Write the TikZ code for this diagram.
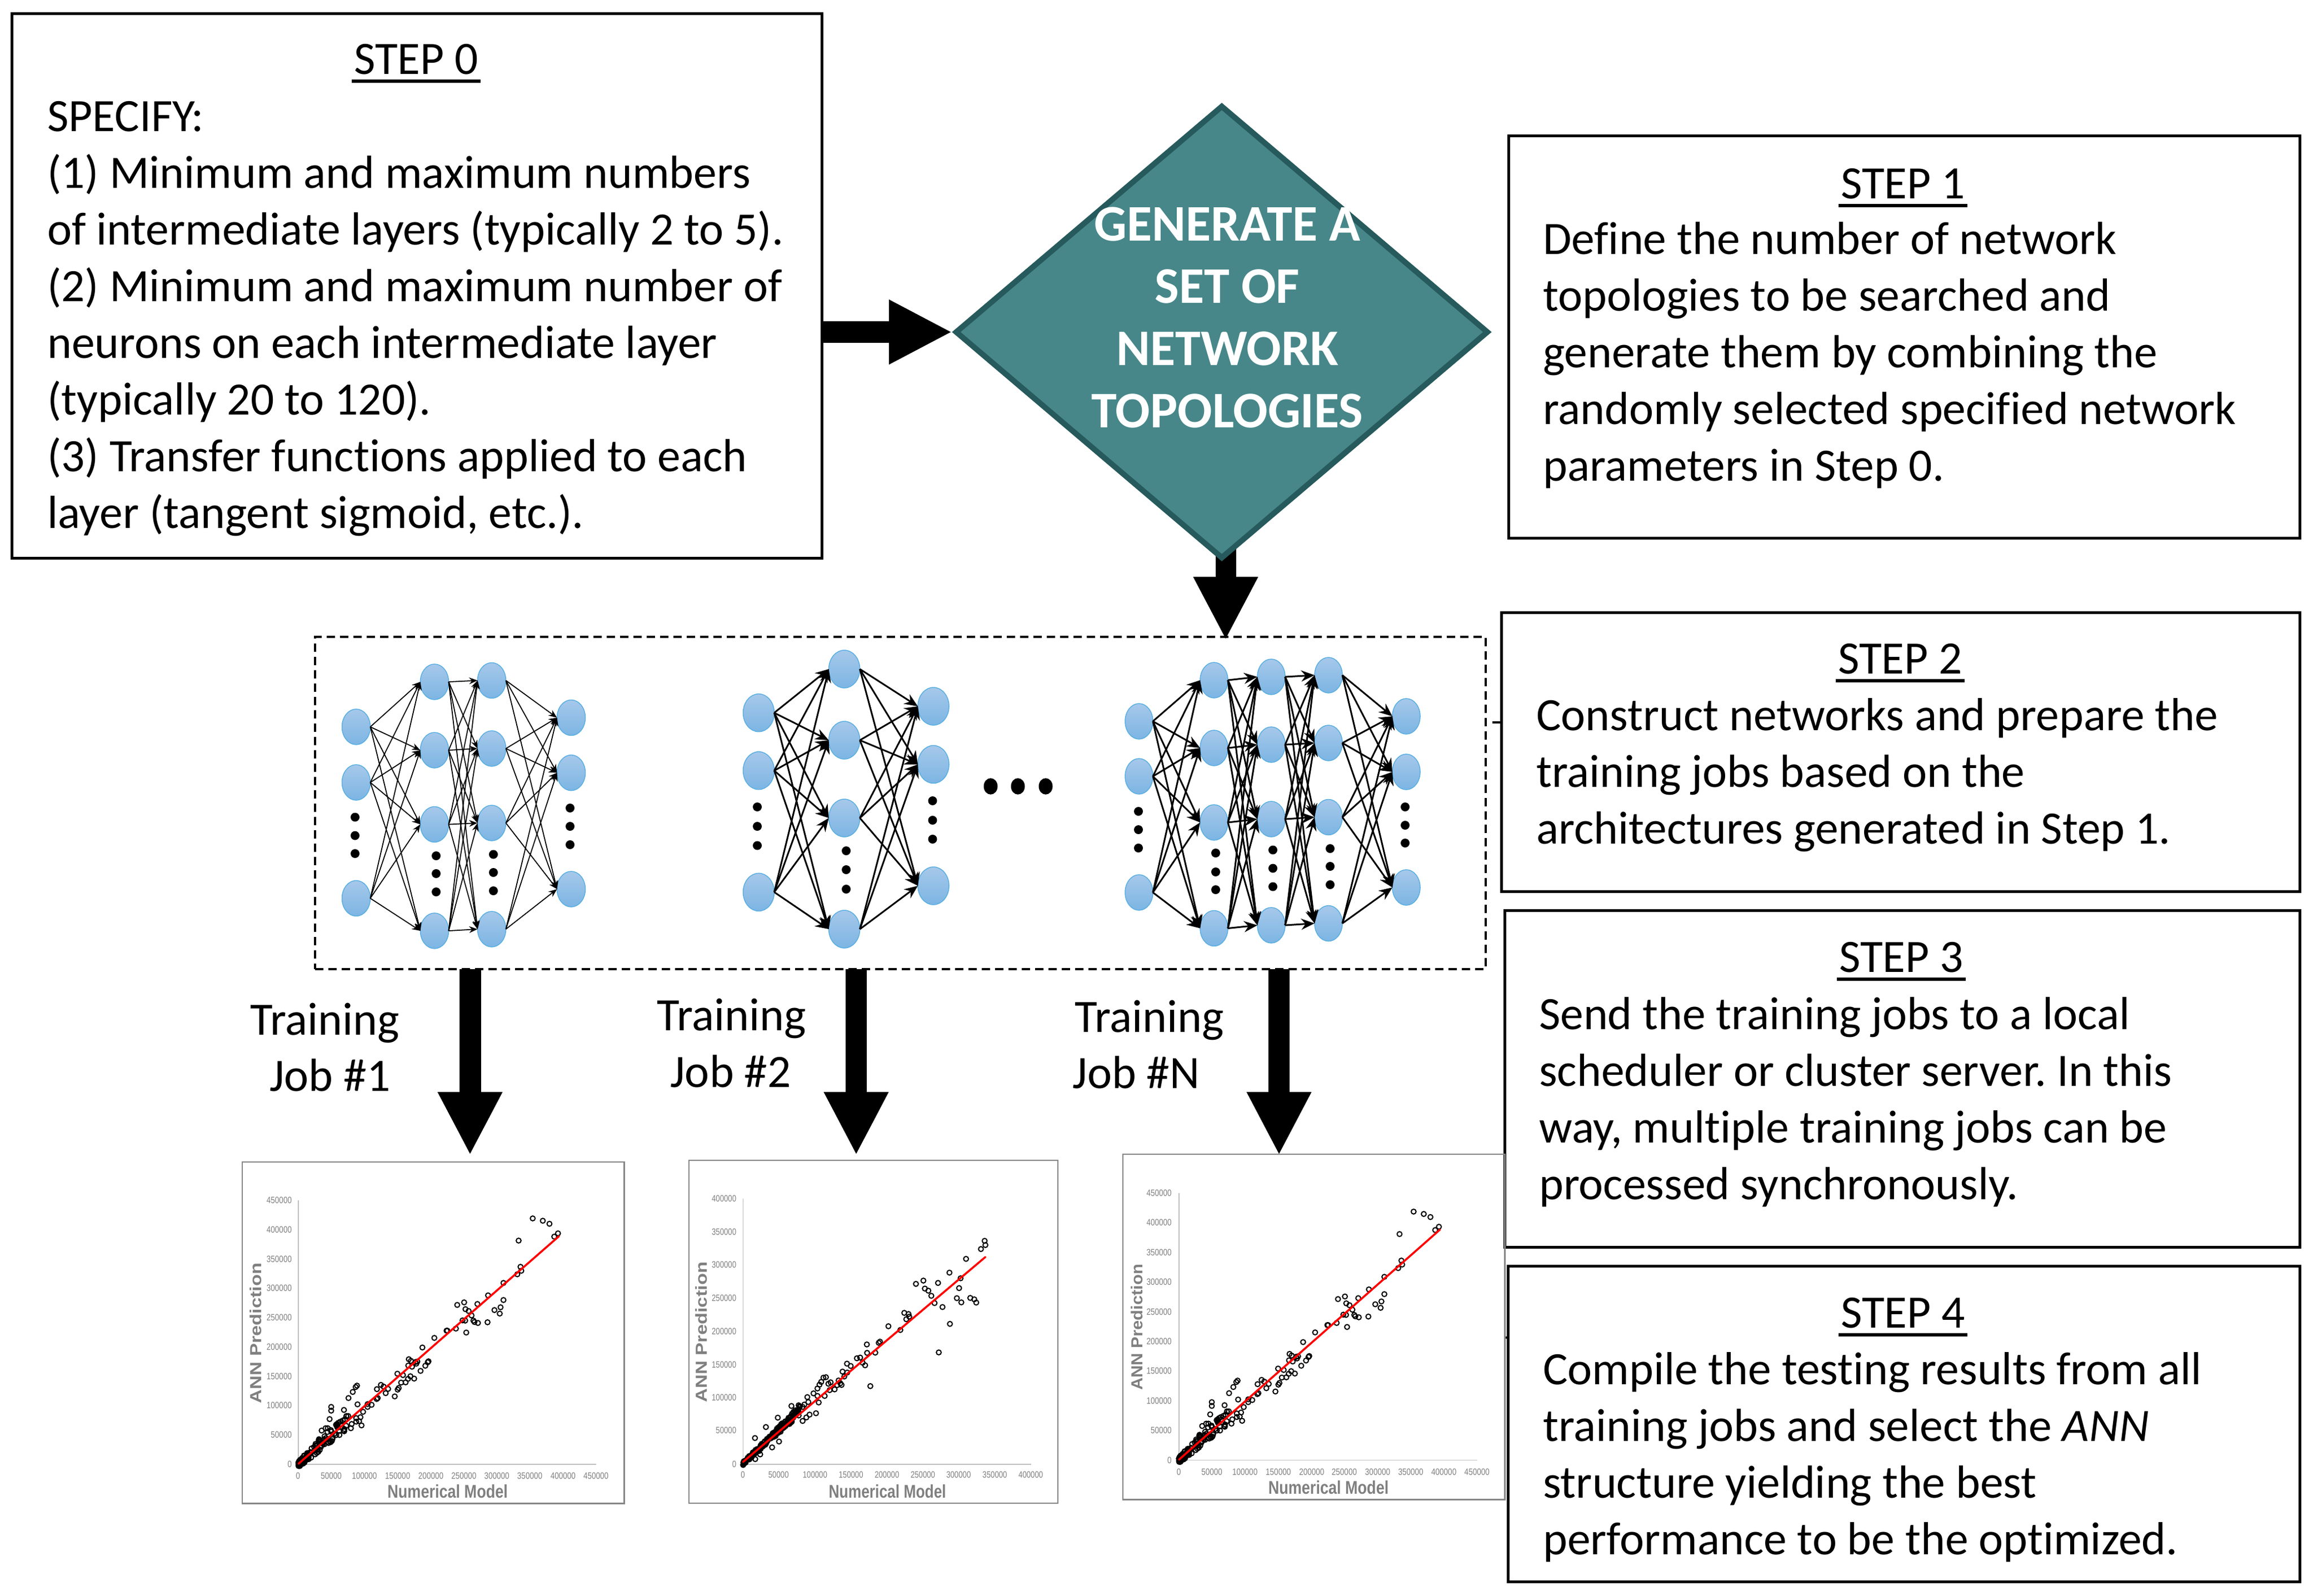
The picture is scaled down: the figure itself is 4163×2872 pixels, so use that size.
\documentclass[tikz,border=0pt]{standalone}
\usepackage{graphicx}
\usepackage{fontspec}
\setmainfont[Ligatures={NoCommon}]{Carlito}
\newfontfamily\arialf{Liberation Sans}
\usetikzlibrary{shapes.geometric,arrows.meta}
\pgfdeclarelayer{background}
\pgfsetlayers{background,main}
\definecolor{tealfill}{HTML}{478789}
\definecolor{tealline}{HTML}{265A5C}
\definecolor{ngtop}{HTML}{A6C8EA}
\definecolor{ngbot}{HTML}{7CB5E3}
\definecolor{ngline}{HTML}{5BAFE2}
\definecolor{plotgray}{HTML}{7F7F7F}
\definecolor{axisgray}{HTML}{BFBFBF}
\definecolor{framegray}{HTML}{868686}
\newcommand{\ulbar}[1]{\setbox0\hbox{#1}\leavevmode\rlap{\kern-4pt\rule[-16pt]{\dimexpr\wd0+8pt\relax}{6pt}}\box0}
\tikzset{
  stepbox/.style={draw=black,line width=5pt,fill=white,rectangle,inner sep=0pt,outer sep=0pt},
  steptitle/.style={anchor=base,inner sep=0pt,font=\fontsize{83.5}{102}\selectfont},
  stepbody/.style={anchor=north west,inner sep=0pt,align=left,font=\fontsize{83.5}{102}\selectfont\frenchspacing},
  joblabel/.style={anchor=base,inner sep=0pt,font=\fontsize{83.5}{102}\selectfont},
  dmtext/.style={anchor=base,inner sep=0pt,text=white,font=\fontsize{92.5}{102}\selectfont\bfseries},
  bigarrow/.style={line width=#1,-{Triangle[length=114pt,width=108pt,sep=0pt]}},
  neuron/.style={ellipse,draw=ngline,line width=1.5pt,top color=ngtop,bottom color=ngbot,inner sep=0pt,outer sep=0pt},
  thinedge/.style={line width=1.8pt,-{Stealth[length=15pt,width=12pt,sep=0pt]}},
  thickedge/.style={line width=3pt,-{Stealth[length=24pt,width=20pt,sep=0pt]}},
  ptmark/.style={draw=black,line width=2pt},
  ticklab/.style={inner sep=0pt,text=plotgray,font=\fontsize{16.5}{18}\selectfont\arialf},
  plottitle/.style={inner sep=0pt,text=plotgray,font=\fontsize{33}{36}\selectfont\arialf\bfseries},
  plotframe/.style={draw=framegray,line width=2.4pt},
  axisline/.style={draw=axisgray,line width=1.6pt},
  redline/.style={draw=red,line width=3.6pt,line cap=round}
}
\newcommand{\dotsthree}[4]{\foreach \dy in {#2,#3,#4} \fill (#1,\dy) circle[radius=8pt];}
\newcommand{\plotonepoints}{%
  \foreach \X/\Y in {1126/291,1164/301,1189/314,1221/355,1207/369,1073/386,1080/498,1083/515,1068/530,1016/567,1016/640,958/620,982/683,1005/671,1002/698,956/735,918/657,868/650,842/661,873/679,885/687,896/706,862/727,872/728,903/728,907/734,920/738,876/779,837/762,802/771,805/771,756/802,711/843,660/893,668/900,685/905,692/903,672/925,658/920,688/912,734/902,731/906,722/921,704/943,617/955,638/961,680/976,666/966,657/977,648/992,631/993,622/1016,618/1023,607/1052,555/1003,565/1010,540/1021,582/1020,573/1038,543/1059,539/1063,465/1006,460/1012,449/1033,433/1059,467/1086,520/1088,505/1085,505/1097,488/1118,478/1141,473/1158,482/1176,462/1160,462/1145,445/1170,442/1188,416/1110,368/1097,368/1113,362/1149,417/1201,399/1217,432/1136,425/1136,420/1150,412/1155,395/1165,390/1170,355/1188,347/1188,332/1198,322/1235}
    {\draw[ptmark] (\X,\Y) circle[radius=4.4pt];}
  \pgfmathsetseed{7}
  \foreach \k in {1,...,130} {
    \pgfmathsetmacro\tt{rnd}
    \pgfmathsetmacro\X{245+185*\tt*\tt}
    \pgfmathsetmacro\Y{1342-(\X-245)*1.03+(rnd-.5)*(16+55*\tt)}
    \draw[ptmark] (\X,\Y) circle[radius=4.4pt];
  }
  \draw[redline] (245,1340) -- (1225,367);
}
\begin{document}
\begin{tikzpicture}[x=1pt,y=-1pt]
\useasboundingbox (0,0) rectangle (4163,2872);

% ---- step boxes
\node[stepbox,minimum width=1458pt,minimum height=980pt] (s0) at (750,514) {};
\node[stepbox,minimum width=1424pt,minimum height=724pt] (s1) at (3427,606) {};
\node[stepbox,minimum width=1437pt,minimum height=502pt] (s2) at (3420.5,1353) {};
\node[stepbox,minimum width=1431pt,minimum height=606pt] (s3) at (3423.5,1941) {};
\node[stepbox,minimum width=1425pt,minimum height=568pt] (s4) at (3426.5,2562) {};

\node[steptitle] (t0) at (749,133.3) {\ulbar{STEP 0}};
\node[stepbody] (b0) at (85,165) {\strut SPECIFY:\\(1) Minimum and maximum numbers\\of intermediate layers (typically 2 to 5).\\(2) Minimum and maximum number of\\neurons on each intermediate layer\\(typically 20 to 120).\\(3) Transfer functions applied to each\\layer (tangent sigmoid, etc.).};
\node[steptitle] (t1) at (3425,357) {\ulbar{STEP 1}};
\node[stepbody] (b1) at (2777,386) {\strut Define the number of network\\topologies to be searched and\\generate them by combining the\\randomly selected specified network\\parameters in Step 0.};
\node[steptitle] (t2) at (3420,1212) {\ulbar{STEP 2}};
\node[stepbody] (b2) at (2765,1242.6) {\strut Construct networks and prepare the\\training jobs based on the\\architectures generated in Step 1.};
\node[steptitle] (t3) at (3422,1749) {\ulbar{STEP 3}};
\node[stepbody] (b3) at (2770,1780.6) {\strut Send the training jobs to a local\\scheduler or cluster server. In this\\way, multiple training jobs can be\\processed synchronously.};
\node[steptitle] (t4) at (3425,2389) {\ulbar{STEP 4}};
\node[stepbody] (b4) at (2777,2419.6) {\strut Compile the testing results from all\\training jobs and select the \textit{ANN}\\structure yielding the best\\performance to be the optimized.};

% ---- diamond
\node[diamond,draw=tealline,fill=tealfill,line width=10pt,minimum width=960pt,minimum height=816pt,inner sep=0pt,aspect=1.18] (gen) at (2199,597.5) {};
\node[dmtext] (g1) at (2209,433) {GENERATE A};
\node[dmtext] (g2) at (2209,545) {SET OF};
\node[dmtext] (g3) at (2209,657) {NETWORK};
\node[dmtext] (g4) at (2209,769) {TOPOLOGIES};

% ---- dashed frame
\node[draw=black,line width=4pt,dash pattern=on 15pt off 9pt,minimum width=2107pt,minimum height=598pt,inner sep=0pt,outer sep=0pt] (netbox) at (1620.5,1445) {};

% ---- big arrows
\coordinate (tipgen) at (2206,1152);
\coordinate (tipa) at (846,2079);
\coordinate (tipb) at (1541,2079);
\coordinate (tipc) at (2302,2079);
\begin{pgfonlayer}{background}
  \draw[bigarrow=39pt] (s0.east |- gen.west) -- (gen.west);
  \draw[bigarrow=37pt] (gen.center -| tipgen) -- (tipgen);
\end{pgfonlayer}
\draw[bigarrow=39pt] (netbox.south -| tipa) -- (tipa);
\draw[bigarrow=38pt] (netbox.south -| tipb) -- (tipb);
\draw[bigarrow=38pt] (netbox.south -| tipc) -- (tipc);

% ---- small ticks
\coordinate (tickb) at (2686,1300);
\draw[line width=4pt] (tickb) -- (tickb -| s2.west);
\coordinate (tickd) at (2708,2407);
\draw[line width=4pt] (tickd) -- (tickd -| s4.west);

% ---- job labels
\node[joblabel] (j1a) at (585,1862) {Training};
\node[joblabel] (j1b) at (594,1963) {Job \#1};
\node[joblabel] (j2a) at (1317,1854) {Training};
\node[joblabel] (j2b) at (1315,1956) {Job \#2};
\node[joblabel] (j3a) at (2069,1857) {Training};
\node[joblabel] (j3b) at (2045,1958) {Job \#N};

% ---- network 1
\tikzset{neu/.style={neuron,minimum width=51pt,minimum height=64pt}}
\foreach \i/\y in {1/1308,2/1408,3/1616.5} \node[neu] (a-1-\i) at (641,\y) {};
\foreach \i/\y in {1/1227,2/1350,3/1483.5,4/1675} \node[neu] (a-2-\i) at (782,\y) {};
\foreach \i/\y in {1/1224.5,2/1347,3/1481,4/1672} \node[neu] (a-3-\i) at (885,\y) {};
\foreach \i/\y in {1/1291.5,2/1390.6,3/1600} \node[neu] (a-4-\i) at (1028,\y) {};
\foreach \p in {1,2,3} \foreach \q in {1,2,3,4} \draw[thinedge] (a-1-\p.east) -- (a-2-\q.west);
\foreach \p in {1,2,3,4} \foreach \q in {1,2,3,4} \draw[thinedge] (a-2-\p.east) -- (a-3-\q.west);
\foreach \p in {1,2,3,4} \foreach \q in {1,2,3} \draw[thinedge] (a-3-\p.east) -- (a-4-\q.west);
\dotsthree{639}{1470.5}{1503.6}{1536}
\dotsthree{785}{1540}{1572}{1605}
\dotsthree{888}{1537.5}{1570}{1603}
\dotsthree{1026}{1454}{1487}{1520}

% ---- network 2
\tikzset{neu/.style={neuron,minimum width=56pt,minimum height=68pt}}
\foreach \i/\y in {1/1282.7,2/1386.7,3/1605.4} \node[neu] (b-1-\i) at (1365.5,\y) {};
\foreach \i/\y in {1/1204,2/1332,3/1472,4/1672} \node[neu] (b-2-\i) at (1519.6,\y) {};
\foreach \i/\y in {1/1271,2/1375.5,3/1594} \node[neu] (b-3-\i) at (1680,\y) {};
\foreach \p in {1,2,3} \foreach \q in {1,2,3,4} \draw[thickedge] (b-1-\p.east) -- (b-2-\q.west);
\foreach \p in {1,2,3,4} \foreach \q in {1,2,3} \draw[thickedge] (b-2-\p.east) -- (b-3-\q.west);
\dotsthree{1363}{1452}{1487}{1521.5}
\dotsthree{1523}{1531}{1565}{1600}
\dotsthree{1678.5}{1441}{1476}{1510}
\foreach \x in {1783,1832,1882} \fill (\x,1415) ellipse[x radius=12.5pt,y radius=14.7pt];

% ---- network 3
\tikzset{neu/.style={neuron,minimum width=50pt,minimum height=64pt}}
\foreach \i/\y in {1/1298,2/1397,3/1606} \node[neu] (c-1-\i) at (2050,\y) {};
\foreach \i/\y in {1/1224,2/1346,3/1480,4/1670.5} \node[neu] (c-2-\i) at (2185,\y) {};
\foreach \i/\y in {1/1218,2/1340,3/1474,4/1665} \node[neu] (c-3-\i) at (2288,\y) {};
\foreach \i/\y in {1/1215,2/1337,3/1470.5,4/1661.6} \node[neu] (c-4-\i) at (2391,\y) {};
\foreach \i/\y in {1/1289,2/1389,3/1597} \node[neu] (c-5-\i) at (2531,\y) {};
\foreach \p in {1,2,3} \foreach \q in {1,2,3,4} \draw[thickedge] (c-1-\p.east) -- (c-2-\q.west);
\foreach \p in {1,2,3,4} \foreach \q in {1,2,3,4} \draw[thickedge] (c-2-\p.east) -- (c-3-\q.west);
\foreach \p in {1,2,3,4} \foreach \q in {1,2,3,4} \draw[thickedge] (c-3-\p.east) -- (c-4-\q.west);
\foreach \p in {1,2,3,4} \foreach \q in {1,2,3} \draw[thickedge] (c-4-\p.east) -- (c-5-\q.west);
\dotsthree{2049}{1460}{1493}{1526}
\dotsthree{2188}{1535}{1569}{1601}
\dotsthree{2291}{1529.5}{1562.5}{1595.5}
\dotsthree{2394}{1527}{1559}{1592}
\dotsthree{2529}{1452}{1485}{1517}

% ---- plot 1
\begin{scope}[shift={(420,2070)},x=.4785pt,y=-.4209pt]
  \draw[plotframe] (33,50) rectangle (1470,1510);
  \draw[axisline] (245,213) -- (245,1342) -- (1365,1342);
  \foreach \v/\Y [count=\i] in {450000/213,400000/339,350000/465,300000/589,250000/715,200000/841,150000/966,100000/1090,50000/1216,0/1342}
    \node[ticklab,anchor=east] (p1y\i) at (220,\Y) {\scalebox{.82}[1]{\v}};
  \foreach \v/\X [count=\i] in {0/243,50000/368,100000/493,150000/618,200000/743,250000/867,300000/991,350000/1115,400000/1240,450000/1364}
    \node[ticklab] (p1x\i) at (\X,1392) {\scalebox{.82}[1]{\v}};
  \node[plottitle] (p1t) at (806,1458) {\scalebox{.82}[1]{Numerical Model}};
  \node[plottitle,rotate=90,font=\fontsize{28.7}{30}\selectfont\arialf\bfseries] (p1l) at (84,781) {\scalebox{1.2}[1]{ANN Prediction}};
  \plotonepoints
\end{scope}

% ---- plot 2
\begin{scope}[shift={(1220,2070)},x=.4464pt,y=-.4209pt]
  \draw[plotframe] (45,42) rectangle (1532,1508);
  \draw[axisline] (263,207) -- (263,1342) -- (1425,1342);
  \foreach \v/\Y [count=\i] in {400000/206,350000/348,300000/490,250000/631,200000/773,150000/916,100000/1056,50000/1198,0/1342}
    \node[ticklab,anchor=east] (p2y\i) at (236,\Y) {\scalebox{.8}[1]{\v}};
  \foreach \v/\X [count=\i] in {0/262,50000/406,100000/553,150000/698,200000/843,250000/988,300000/1132,350000/1278,400000/1423}
    \node[ticklab] (p2x\i) at (\X,1388) {\scalebox{.8}[1]{\v}};
  \node[plottitle] (p2t) at (845,1458) {\scalebox{.8}[1]{Numerical Model}};
  \node[plottitle,rotate=90,font=\fontsize{28.7}{30}\selectfont\arialf\bfseries] (p2l) at (95,777) {\scalebox{1.2}[1]{ANN Prediction}};
  \foreach \X/\Y in {1237/387,1240/405,1222/422,1162/464,1095/523,990/557,1049/567,960/571,996/591,1010/600,1022/622,1140/547,1134/589,1125/632,1143/650,1179/631,1195/637,1203/651,1067/670,1035/653,1097/742,913/695,930/700,933/711,921/722,849/752,897/768,762/830,810/823,815/818,763/866,796/865,1052/864,722/889,735/886,682/912,697/922,745/908,755/919,664/946,683/950,671/967,597/970,587/972,578/990,571/1002,563/1018,547/1039,522/1055,563/1050,607/998,616/992,612/1025,592/1050,632/1022,648/984,642/1004,655/996,660/1003,776/1008,568/1078,557/1124,531/1130,518/1142,503/1157,526/1076,510/1087,487/1090,503/1097,458/1093,403/1143,355/1183,311/1230,380/1270,408/1245,332/1300,312/1320}
    {\draw[ptmark] (\X,\Y) circle[radius=4.4pt];}
  \pgfmathsetseed{11}
  \foreach \k in {1,...,170} {
    \pgfmathsetmacro\tt{rnd}
    \pgfmathsetmacro\X{263+230*\tt}
    \pgfmathsetmacro\Y{1340-(\X-263)*1.0+(rnd-.5)*(14+26*\tt)}
    \draw[ptmark] (\X,\Y) circle[radius=4.4pt];
  }
  \draw[redline] (263,1332) -- (1240,456);
\end{scope}

% ---- plot 3
\begin{scope}[shift={(2000,2060)},x=.46555pt,y=-.4209pt]
  \draw[plotframe] (45,40) rectangle (1522,1517);
  \draw[axisline] (262,207) -- (262,1348) -- (1415,1348);
  \foreach \v/\Y [count=\i] in {450000/206,400000/333,350000/460,300000/586,250000/714,200000/840,150000/966,100000/1094,50000/1220,0/1348}
    \node[ticklab,anchor=east] (p3y\i) at (234,\Y) {\scalebox{.82}[1]{\v}};
  \foreach \v/\X [count=\i] in {0/261,50000/389,100000/517,150000/646,200000/775,250000/901,300000/1030,350000/1158,400000/1286,450000/1414}
    \node[ticklab] (p3x\i) at (\X,1398) {\scalebox{.82}[1]{\v}};
  \node[plottitle] (p3t) at (840,1465) {\scalebox{.82}[1]{Numerical Model}};
  \node[plottitle,rotate=90,font=\fontsize{28.7}{30}\selectfont\arialf\bfseries] (p3l) at (100,780) {\scalebox{1.08}[1]{ANN Prediction}};
\end{scope}
\begin{scope}[shift={(2004.6,2056.5)},x=.4793pt,y=-.42535pt]
  \plotonepoints
\end{scope}
\end{tikzpicture}
\end{document}
